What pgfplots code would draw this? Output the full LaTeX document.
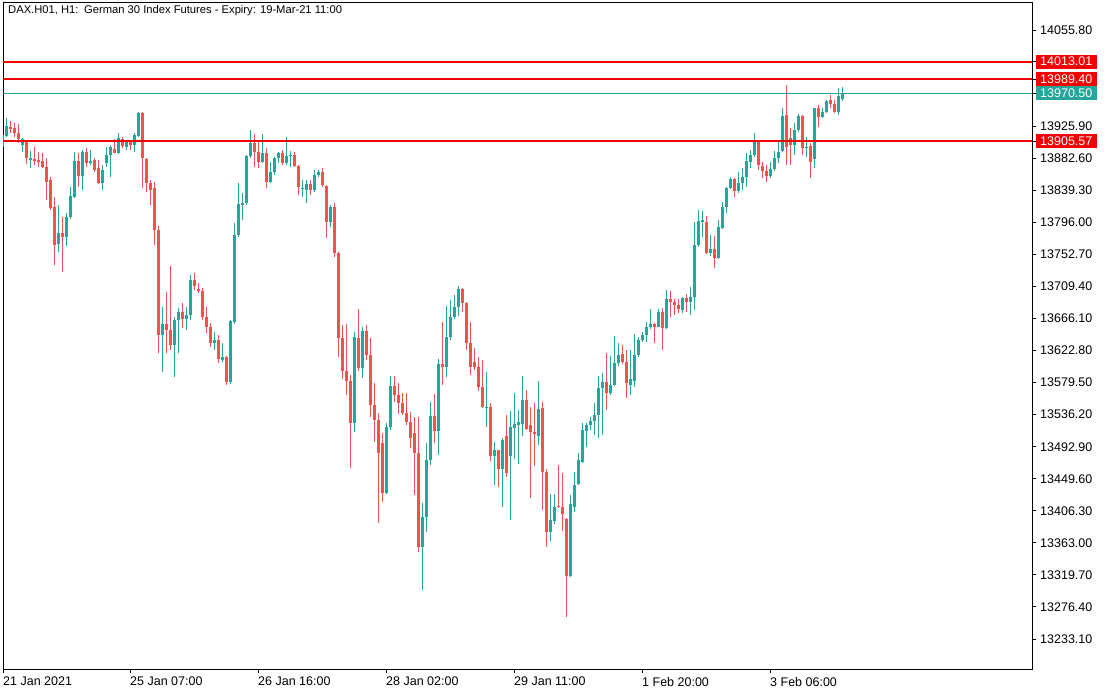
\documentclass[border=0pt]{standalone}
\usepackage{fontspec}
\setmainfont{Liberation Sans}
\usepackage{pgfplots}
\pgfplotsset{compat=1.18}
\usepackage{pgfplotstable}
\definecolor{upc}{HTML}{26A69A}
\definecolor{dnc}{HTML}{EF5350}
\definecolor{lvl}{HTML}{F50000}

\pgfplotstableread{
k o h l c
0 13898 13918 13896 13914
1 13913 13937 13911 13926
5 13900 13910 13891 13909
7 13880 13892 13869 13883
14 13767 13819 13756 13782
16 13776 13809 13764 13803
17 13803 13844 13801 13832
18 13830 13891 13829 13879
20 13859 13894 13840 13891
22 13876 13894 13873 13879
25 13849 13873 13840 13867
26 13876 13898 13871 13887
27 13887 13900 13857 13898
29 13890 13917 13888 13910
31 13898 13907 13894 13904
33 13901 13917 13891 13914
34 13913 13945 13911 13944
40 13644 13682 13594 13659
43 13630 13668 13587 13664
44 13664 13680 13619 13675
46 13666 13682 13651 13671
47 13671 13725 13664 13718
53 13633 13648 13624 13637
55 13610 13633 13607 13614
57 13580 13664 13578 13663
58 13661 13795 13659 13779
59 13779 13849 13776 13821
60 13820 13836 13799 13822
61 13822 13887 13819 13886
62 13885 13921 13883 13903
65 13878 13915 13876 13890
67 13850 13878 13849 13864
68 13864 13884 13860 13883
69 13883 13891 13876 13890
71 13876 13911 13873 13886
72 13885 13892 13871 13887
75 13841 13853 13830 13843
76 13840 13853 13822 13848
78 13840 13867 13837 13860
79 13860 13867 13857 13864
82 13796 13819 13790 13817
88 13525 13648 13513 13641
90 13599 13655 13586 13649
96 13430 13525 13429 13520
97 13519 13588 13515 13575
105 13357 13417 13299 13398
106 13398 13498 13378 13475
107 13475 13553 13468 13534
109 13514 13611 13482 13605
111 13601 13683 13587 13641
112 13641 13691 13637 13668
113 13668 13698 13666 13682
114 13682 13710 13669 13706
121 13545 13594 13520 13547
123 13480 13499 13441 13488
125 13463 13505 13411 13502
127 13480 13541 13394 13520
128 13518 13565 13476 13524
129 13522 13542 13470 13526
130 13523 13588 13507 13556
134 13507 13582 13495 13544
137 13378 13429 13365 13394
138 13392 13429 13388 13411
142 13318 13428 13317 13415
143 13412 13459 13405 13441
144 13442 13484 13441 13475
145 13472 13525 13471 13515
146 13514 13525 13492 13522
147 13522 13533 13515 13528
148 13528 13552 13509 13536
149 13536 13588 13505 13572
150 13572 13592 13509 13580
152 13565 13615 13563 13576
153 13576 13642 13575 13606
154 13606 13633 13602 13617
157 13576 13624 13563 13584
158 13582 13645 13574 13617
159 13617 13641 13614 13637
160 13637 13648 13634 13644
161 13644 13661 13634 13655
162 13655 13679 13652 13658
164 13655 13679 13654 13675
166 13653 13705 13652 13692
170 13678 13695 13673 13694
172 13688 13709 13671 13695
173 13695 13796 13678 13765
174 13765 13813 13763 13798
175 13797 13811 13776 13799
177 13755 13779 13750 13760
179 13748 13799 13746 13790
180 13788 13823 13787 13817
181 13817 13844 13809 13842
182 13842 13857 13841 13855
184 13838 13864 13836 13849
185 13849 13870 13840 13857
186 13857 13890 13844 13879
187 13878 13894 13869 13887
188 13887 13917 13884 13905
192 13859 13878 13856 13868
193 13868 13892 13866 13883
194 13883 13905 13876 13891
195 13893 13950 13891 13940
198 13900 13930 13887 13921
199 13921 13942 13918 13940
201 13896 13911 13884 13898
203 13881 13951 13869 13950
205 13938 13950 13937 13945
206 13945 13961 13944 13960
209 13945 13977 13941 13967
210 13962 13979 13960 13970.5
}\tabUp

\pgfplotstableread{
k o h l c
2 13925 13933 13917 13922
3 13923 13930 13911 13917
4 13917 13929 13903 13909
6 13906 13907 13875 13883
8 13882 13898 13873 13879
9 13880 13891 13871 13878
10 13879 13890 13869 13871
11 13871 13883 13826 13850
12 13853 13857 13813 13815
13 13817 13830 13738 13765
15 13782 13803 13729 13776
19 13879 13890 13844 13859
21 13891 13896 13871 13876
23 13880 13883 13864 13867
24 13869 13880 13848 13849
28 13895 13909 13889 13890
30 13909 13911 13896 13899
32 13904 13907 13894 13900
35 13944 13945 13842 13883
36 13882 13883 13837 13849
37 13849 13853 13819 13840
38 13842 13850 13765 13786
39 13786 13791 13619 13644
41 13659 13702 13619 13651
42 13651 13737 13624 13630
45 13675 13687 13653 13665
48 13718 13728 13705 13710
49 13706 13714 13700 13703
50 13703 13707 13664 13668
51 13668 13682 13646 13655
52 13655 13660 13628 13633
54 13637 13644 13606 13611
56 13614 13615 13576 13580
63 13903 13915 13871 13891
64 13891 13905 13869 13878
66 13890 13896 13842 13850
70 13890 13894 13873 13876
73 13887 13891 13871 13872
74 13872 13873 13833 13844
77 13848 13853 13833 13840
80 13864 13869 13844 13846
81 13845 13846 13775 13796
83 13817 13822 13749 13755
84 13755 13756 13614 13640
85 13640 13657 13584 13595
86 13595 13659 13563 13582
87 13582 13590 13464 13525
89 13640 13679 13595 13599
91 13649 13657 13610 13617
92 13617 13640 13533 13549
93 13549 13579 13499 13529
94 13529 13538 13390 13484
95 13498 13511 13418 13430
98 13575 13588 13553 13563
99 13563 13579 13537 13552
100 13552 13565 13536 13538
101 13538 13565 13522 13526
102 13526 13540 13491 13505
103 13511 13533 13428 13484
104 13484 13533 13351 13357
108 13534 13564 13498 13514
110 13605 13661 13576 13601
115 13706 13707 13675 13687
116 13687 13688 13624 13633
117 13633 13661 13590 13601
118 13607 13626 13597 13601
119 13601 13614 13568 13574
120 13574 13610 13545 13546
122 13547 13552 13474 13480
124 13488 13489 13438 13463
126 13507 13536 13452 13457
131 13556 13569 13515 13517
132 13522 13546 13424 13513
133 13513 13552 13467 13510
135 13545 13553 13407 13459
136 13459 13463 13357 13378
139 13413 13468 13410 13411
140 13412 13457 13379 13402
141 13395 13396 13263 13318
151 13580 13619 13542 13565
155 13618 13630 13605 13607
156 13607 13624 13559 13579
163 13658 13660 13633 13655
165 13675 13680 13624 13653
167 13693 13703 13668 13688
168 13688 13692 13671 13684
169 13684 13692 13673 13679
171 13694 13699 13675 13688
176 13797 13805 13753 13755
178 13760 13777 13734 13748
183 13855 13856 13830 13838
189 13905 13907 13867 13873
190 13872 13878 13856 13865
191 13865 13873 13850 13859
196 13941 13981 13873 13898
197 13910 13923 13873 13900
200 13940 13941 13887 13896
202 13899 13903 13856 13878
204 13950 13955 13925 13938
207 13961 13968 13950 13956
208 13956 13961 13944 13945
}\tabDn

\tikzset{pricebox/.style={text=white, anchor=west, inner xsep=4bp, inner ysep=0pt,
        minimum height=14bp, text width=53bp, align=left,
        font=\fontsize{12.5bp}{14bp}\selectfont}}

\begin{document}
\begin{tikzpicture}
\fill[white] (0,0) rectangle (1110bp,694bp);
\useasboundingbox (0,0) rectangle (1110bp,694bp);
\begin{axis}[
  at={(3bp,25bp)}, anchor=south west,
  scale only axis, width=1029bp, height=666bp,
  xmin=0.25, xmax=257.5, ymin=13192.6, ymax=14092.3,
  axis line style={black, line width=1bp},
  tick align=outside, major tick length=4bp,
  tick style={black, line width=1bp},
  xtick pos=bottom, ytick pos=right, yticklabel pos=right,
  xtick={0.25,32,64,96,128,160,192},
  xticklabels={21 Jan 2021, 25 Jan 07:00, 26 Jan 16:00, 28 Jan 02:00, 29 Jan 11:00, 1 Feb 20:00, 3 Feb 06:00},
  xticklabel style={anchor=north west, inner sep=0pt, yshift=-4bp},
  scaled y ticks=false,
  ytick={13233.1,13276.4,13319.7,13363.0,13406.3,13449.6,13492.9,13536.2,13579.5,13622.8,13666.1,13709.4,13752.7,13796.0,13839.3,13882.6,13925.9,14055.8},
  extra y ticks={14013.01,13989.40,13970.50,13905.57},
  extra y tick labels={},
  yticklabel style={anchor=west, inner sep=0pt, xshift=4bp},
  tick label style={font=\fontsize{12.5bp}{14bp}\selectfont},
  /pgf/number format/fixed, /pgf/number format/fixed zerofill,
  /pgf/number format/precision=2, /pgf/number format/1000 sep={},
  /pgf/number format/assume math mode=true,
  clip mode=individual,
]
% wicks
\addplot[upc, line width=1bp, quiver={u=0, v=\thisrow{h}-\thisrow{l}}] table[x=k, y=l] \tabUp;
\addplot[dnc, line width=1bp, quiver={u=0, v=\thisrow{h}-\thisrow{l}}] table[x=k, y=l] \tabDn;
% bodies
\addplot[upc, line width=3bp, quiver={u=0, v=\thisrow{c}-\thisrow{o}}] table[x=k, y=o] \tabUp;
\addplot[dnc, line width=3bp, quiver={u=0, v=\thisrow{c}-\thisrow{o}}] table[x=k, y=o] \tabDn;
% levels
\addplot[upc, line width=1bp] coordinates {(0.25,13970.5) (257.5,13970.5)};
\addplot[lvl, line width=2bp] coordinates {(0.25,14013.01) (257.5,14013.01)};
\addplot[lvl, line width=2bp] coordinates {(0.25,13989.40) (257.5,13989.40)};
\addplot[lvl, line width=2bp] coordinates {(0.25,13905.57) (257.5,13905.57)};
\node[pricebox, fill=lvl] at (axis cs:258.5,14013.01) {14013.01};
\node[pricebox, fill=lvl] at (axis cs:258.5,13989.40) {13989.40};
\node[pricebox, fill=upc] at (axis cs:258.5,13970.50) {13970.50};
\node[pricebox, fill=lvl] at (axis cs:258.5,13905.57) {13905.57};
\end{axis}
\node[anchor=west, inner sep=0pt, font=\fontsize{11.2bp}{13bp}\selectfont]
  at (8bp,683bp) {DAX.H01, H1:\enspace German 30 Index Futures - Expiry: 19-Mar-21 11:00};
\end{tikzpicture}
\end{document}
